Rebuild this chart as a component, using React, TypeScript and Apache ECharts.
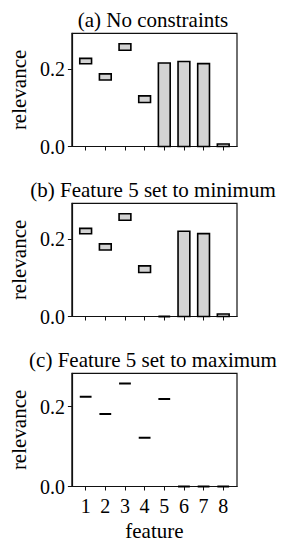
import React, { useEffect, useRef } from "react";
import * as echarts from "echarts";

const features = [1, 2, 3, 4, 5, 6, 7, 8];
const xTickLabels = ["1", "2", "3", "4", "5", "6", "7", "8"];
const yTickValues = [0, 0.2];
const panelTitles = [
  "(a) No constraints",
  "(b) Feature 5 set to minimum",
  "(c) Feature 5 set to maximum",
];
// (a) no constraints: relevance intervals
const aLow = [0.214, 0.172, 0.249, 0.114, 0, 0, 0, 0];
const aHigh = [0.228, 0.188, 0.266, 0.131, 0.216, 0.220, 0.2145, 0.0065];
// (b) feature 5 set to minimum
const bLow = [0.214, 0.172, 0.249, 0.114, 0, 0, 0, 0];
const bHigh = [0.228, 0.188, 0.266, 0.131, 0, 0.2205, 0.2145, 0.0065];
// (c) feature 5 set to maximum (point values)
const cValue = [0.225, 0.182, 0.258, 0.122, 0.219, 0, 0, 0];
const yMax = [0.293, 0.293, 0.2837];

const FONT = "'Liberation Serif', 'Times New Roman', 'DejaVu Serif', serif";

export default function App() {
  const ref = useRef<HTMLDivElement>(null);
  useEffect(() => {
    if (!ref.current) return;
    const chart = echarts.init(ref.current, null, { renderer: "svg" });
    const tops = [33.3, 203.3, 373.3];
    const left = 69;
    const width = 168;
    const height = 113.2;
    const panels = [
      features.map((f, i) => [f, aLow[i], aHigh[i]]),
      features.map((f, i) => [f, bLow[i], bHigh[i]]),
      features.map((f, i) => [f, cValue[i], cValue[i]]),
    ];
    const renderItem = (params: any, api: any) => {
      const x = api.value(0);
      const lo = api.value(1);
      const hi = api.value(2);
      const p1 = api.coord([x - 0.3, hi]);
      const p2 = api.coord([x + 0.3, lo]);
      const flat = lo === hi;
      return {
        type: "polygon",
        shape: {
          points: [
            [p1[0], p1[1]],
            [p2[0], p1[1]],
            [p2[0], p2[1]],
            [p1[0], p2[1]],
          ],
        },
        style: {
          fill: flat ? "none" : "#d3d3d3",
          stroke: "#000",
          lineWidth: flat ? 2 : 1.6,
        },
      };
    };
    const option: any = {
      animation: false,
      backgroundColor: "#fff",
      textStyle: { fontFamily: FONT },
      grid: tops.map((t) => ({
        left,
        top: t,
        width,
        height,
        show: true,
        borderColor: "#111",
        borderWidth: 1.2,
        backgroundColor: "transparent",
      })),
      xAxis: tops.map((_, k) => ({
        type: "value",
        gridIndex: k,
        min: 0.3,
        max: 8.7,
        splitLine: { show: false },
        axisLine: { show: true, lineStyle: { color: "#111", width: 1.2 } },
        axisTick: {
          show: true,
          length: 4,
          customValues: features,
          lineStyle: { color: "#111", width: 1 },
        },
        axisLabel: {
          show: k === 2,
          customValues: features,
          formatter: (v: number) => xTickLabels[Math.round(v) - 1] ?? "",
          fontFamily: FONT,
          fontSize: 20,
          color: "#000",
          margin: 9,
        },
        name: k === 2 ? "feature" : "",
        nameLocation: "middle",
        nameGap: 34,
        nameTextStyle: { fontFamily: FONT, fontSize: 21, color: "#000" },
      })),
      yAxis: tops.map((_, k) => ({
        type: "value",
        gridIndex: k,
        min: 0,
        max: yMax[k],
        splitLine: { show: false },
        axisLine: { show: true, lineStyle: { color: "#111", width: 1.2 } },
        axisTick: {
          show: true,
          length: 4,
          customValues: yTickValues,
          lineStyle: { color: "#111", width: 1 },
        },
        axisLabel: {
          customValues: yTickValues,
          formatter: (v: number) => v.toFixed(1),
          fontFamily: FONT,
          fontSize: 20,
          color: "#000",
          margin: 7,
        },
        name: "relevance",
        nameLocation: "middle",
        nameRotate: 90,
        nameGap: 33,
        nameTextStyle: { fontFamily: FONT, fontSize: 21, color: "#000" },
      })),
      graphic: panelTitles.map((t, k) => ({
        type: "text",
        x: left + width / 2,
        y: tops[k] - 13,
        style: {
          text: t,
          fontFamily: FONT,
          fontSize: 21,
          fill: "#000",
          textAlign: "center",
          textVerticalAlign: "middle",
        },
      })),
      series: panels.map((d, k) => ({
        type: "custom",
        xAxisIndex: k,
        yAxisIndex: k,
        renderItem,
        encode: { x: 0, y: [1, 2] },
        data: d,
        clip: false,
      })),
    };
    chart.setOption(option);
    return () => chart.dispose();
  }, []);
  return (
    <div
      ref={ref}
      style={{ position: "absolute", left: 0, top: 0, width: 290, height: 550 }}
    />
  );
}
